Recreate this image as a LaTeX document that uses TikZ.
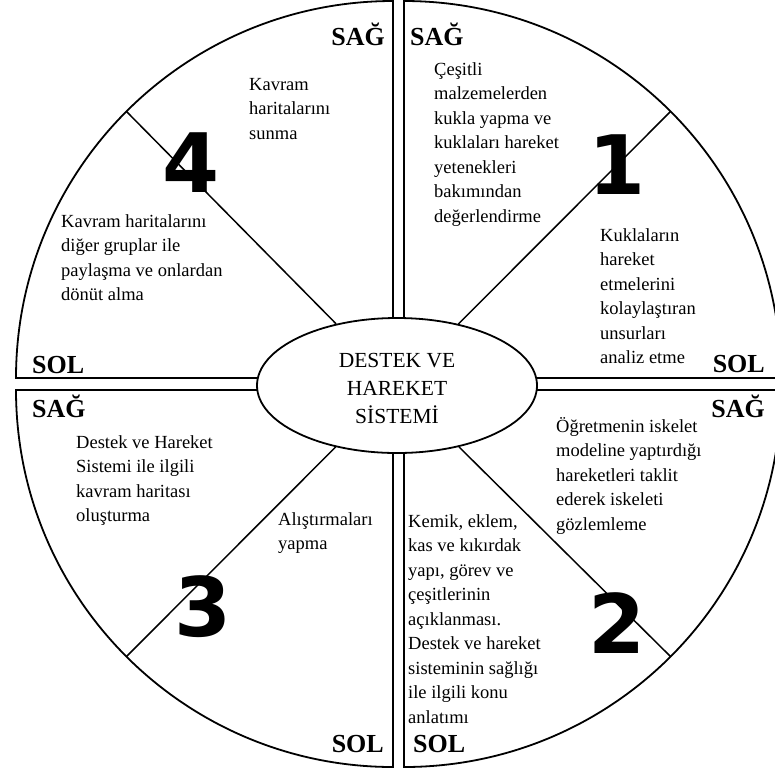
\documentclass[tikz,border=0pt]{standalone}
\usepackage{fontspec}
\setmainfont{Liberation Serif}
\newfontfamily\digitfont{DejaVu Sans}
\usetikzlibrary{shapes.geometric}
% left-aligned block whose baseline is that of its first line
\newcommand\lineblock[1]{\begin{tabular}[t]{@{}l@{}}#1\end{tabular}}
\newcommand\centerblock[1]{\begin{tabular}[t]{@{}c@{}}#1\end{tabular}}
\begin{document}
\begin{tikzpicture}[x=1pt,y=-1pt,
  quad/.style={draw=black, line width=1.8pt, fill=white, line join=miter},
  spoke/.style={draw=black, line width=1.5pt},
  body/.style={anchor=base west, inner sep=0pt, font=\fontsize{18.5}{24.5}\selectfont},
  side/.style={inner sep=0pt, font=\fontsize{26}{30}\selectfont\bfseries},
  num/.style={inner sep=0pt, anchor=center, font=\digitfont\bfseries\fontsize{82}{84}\selectfont},
  hubshape/.style={draw=black, ellipse, line width=1.8pt, fill=white,
    minimum width=280pt, minimum height=135pt, inner sep=0pt},
]
\useasboundingbox (0,0) rectangle (775,772);
\clip (0,0) rectangle (775,772);

% four quarter discs separated by narrow gaps
\draw[quad] (393,378) -- (16,378) arc[start angle=180, end angle=270, x radius=377, y radius=377] -- cycle;
\draw[quad] (404,378) -- (404,1) arc[start angle=270, end angle=360, x radius=377, y radius=377] -- cycle;
\draw[quad] (404,390) -- (781,390) arc[start angle=0, end angle=90, x radius=377, y radius=377] -- cycle;
\draw[quad] (393,390) -- (393,767) arc[start angle=90, end angle=180, x radius=377, y radius=377] -- cycle;

% rim points where the diagonal spokes end
\coordinate (rim1) at (670.6,111.4);
\coordinate (rim2) at (670.6,656.6);
\coordinate (rim3) at (126.4,656.6);
\coordinate (rim4) at (126.4,111.4);

% central hub
\node[hubshape] (hub) at (397,385.5) {};
\node[anchor=base, inner sep=0pt, font=\fontsize{21.5}{28}\selectfont] (hubtext) at (397,367)
  {\centerblock{DESTEK VE\\HAREKET\\SİSTEMİ}};

\draw[spoke] (hub) -- (rim1);
\draw[spoke] (hub) -- (rim2);
\draw[spoke] (hub) -- (rim3);
\draw[spoke] (hub) -- (rim4);

% quadrant 4 (upper left)
\node[side, anchor=base east] (sag4) at (385,45) {SAĞ};
\node[body] (t4a) at (249,90) {\lineblock{Kavram\\haritalarını\\sunma}};
\node[num] (n4) at (191,163) {4};
\node[body] (t4b) at (61,227) {\lineblock{Kavram haritalarını\\diğer gruplar ile\\paylaşma ve onlardan\\dönüt alma}};
\node[side, anchor=base west] (sol4) at (32,373) {SOL};

% quadrant 1 (upper right)
\node[side, anchor=base west] (sag1) at (410,45) {SAĞ};
\node[body] (t1a) at (434,75) {\lineblock{Çeşitli\\malzemelerden\\kukla yapma ve\\kuklaları hareket\\yetenekleri\\bakımından\\değerlendirme}};
\node[num] (n1) at (617,165) {1};
\node[body] (t1b) at (600,241) {\lineblock{Kuklaların\\hareket\\etmelerini\\kolaylaştıran\\unsurları\\analiz etme}};
\node[side, anchor=base east] (sol1) at (765,372) {SOL};

% quadrant 2 (lower right)
\node[side, anchor=base east] (sag2) at (765,417) {SAĞ};
\node[body] (t2a) at (556,432) {\lineblock{Öğretmenin iskelet\\modeline yaptırdığı\\hareketleri taklit\\ederek iskeleti\\gözlemleme}};
\node[body] (t2b) at (408,527) {\lineblock{Kemik, eklem,\\kas ve kıkırdak\\yapı, görev ve\\çeşitlerinin\\açıklanması.\\Destek ve hareket\\sisteminin sağlığı\\ile ilgili konu\\anlatımı}};
\node[num] (n2) at (617,623) {2};
\node[side, anchor=base west] (sol2) at (413,752) {SOL};

% quadrant 3 (lower left)
\node[side, anchor=base west] (sag3) at (32,417) {SAĞ};
\node[body] (t3a) at (76,448) {\lineblock{Destek ve Hareket\\Sistemi ile ilgili\\kavram haritası\\oluşturma}};
\node[body] (t3b) at (278,525) {\lineblock{Alıştırmaları\\yapma}};
\node[num] (n3) at (203,607) {3};
\node[side, anchor=base east] (sol3) at (384,752) {SOL};
\end{tikzpicture}
\end{document}
